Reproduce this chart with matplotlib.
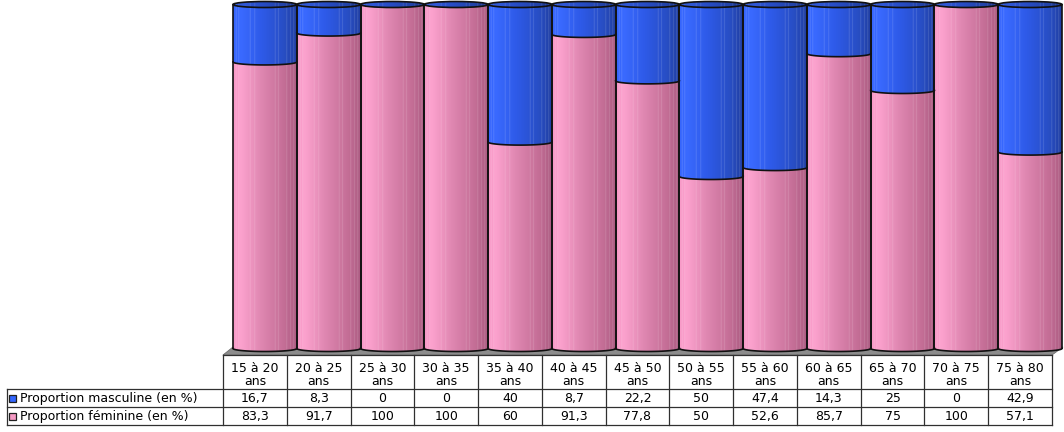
import numpy as np
import matplotlib
matplotlib.use("Agg")
import matplotlib.pyplot as plt
from matplotlib.path import Path
from matplotlib.patches import PathPatch, Ellipse, Polygon, Rectangle

# age groups and shares per group (in %)
tranches = ["15 à 20", "20 à 25", "25 à 30", "30 à 35", "35 à 40", "40 à 45",
            "45 à 50", "50 à 55", "55 à 60", "60 à 65", "65 à 70", "70 à 75",
            "75 à 80"]
masculin = [16.7, 8.3, 0, 0, 40, 8.7, 22.2, 50, 47.4, 14.3, 25, 0, 42.9]
feminin = [83.3, 91.7, 100, 100, 60, 91.3, 77.8, 50, 52.6, 85.7, 75, 100, 57.1]
series = ["Proportion masculine (en %)", "Proportion féminine (en %)"]

W, H = 1064, 432
FONT = "DejaVu Sans"
FS = 9

# horizontal shading of the cylinders (position, rgb)
PINK = [(0.0, (246, 152, 198)), (0.12, (252, 162, 206)), (0.45, (222, 134, 176)),
        (0.8, (196, 110, 150)), (1.0, (172, 92, 130))]
BLUE = [(0.0, (52, 100, 252)), (0.12, (58, 106, 255)), (0.45, (46, 90, 232)),
        (0.8, (40, 78, 196)), (1.0, (32, 62, 162))]
STRIPES = [0.05, 0.09, 0.27, 0.34, 0.66, 0.71, 0.84, 0.9, 0.95]


def shading(stops, n=256, k=1.0):
    pos = np.array([s[0] for s in stops])
    rgb = np.array([s[1] for s in stops], float) / 255
    x = np.linspace(0, 1, n)
    img = np.stack([np.interp(x, pos, rgb[:, c]) for c in range(3)], axis=1)
    for s in STRIPES:
        j = int(s * (n - 1))
        img[j:j + 2] = img[j:j + 2] + (1 - img[j:j + 2]) * 0.25
    return np.clip(img[None, :, :] * k, 0, 1)


def px(x0, y0, x1, y1):
    return [x0 / W, 1 - y1 / H, (x1 - x0) / W, (y1 - y0) / H]


fig = plt.figure(figsize=(W / 100, H / 100), dpi=100)
fig.patch.set_facecolor("white")

# overlay in pixel coordinates for the floor and the data table
ov = fig.add_axes([0, 0, 1, 1], zorder=0)
ov.set_xlim(0, W)
ov.set_ylim(H, 0)
ov.axis("off")

TAB_L, TAB_R, DEPTH = 223, 1052, 10
Y_TOP, Y_BASE = 4.5, 348.5   # pixel rows of 100 % and 0 %
AX_TOP, AX_BOT = 0, 355      # axes box, a bit larger for the end caps
ov.add_patch(Polygon([(TAB_L, 355), (TAB_R, 355), (TAB_R + DEPTH + 1, 347),
                      (TAB_L + DEPTH, 347)], closed=True,
                     facecolor="#8c8c8c", edgecolor="#6e6e6e", lw=0.6))

ax = fig.add_axes(px(TAB_L + DEPTH, AX_TOP, TAB_R + DEPTH, AX_BOT), zorder=1)
ax.patch.set_alpha(0)
n = len(tranches)
scale = 100 / (Y_BASE - Y_TOP)
EH = 3.0 * scale  # half height of the ellipses in data units
t = np.linspace(np.pi, 2 * np.pi, 80)
EDGE = dict(color="#111111", lw=1.2)


def segment(i, a, b, stops):
    xs = i + 0.5 * np.cos(t)
    ys = a + EH * np.sin(t)
    verts = list(zip(xs, ys)) + [(i + 0.5, b), (i - 0.5, b), (xs[0], ys[0])]
    patch = PathPatch(Path(verts), facecolor="none", edgecolor="none",
                      transform=ax.transData)
    ax.add_patch(patch)
    im = ax.imshow(shading(stops), extent=(i - 0.5, i + 0.5, a - EH, b),
                   aspect="auto", interpolation="bilinear", zorder=2)
    im.set_clip_path(patch)
    ax.plot(xs, ys, zorder=4, clip_on=False, **EDGE)


for i, (m, f) in enumerate(zip(masculin, feminin)):
    if f > 0:
        segment(i, 0, f, PINK)
    if m > 0:
        segment(i, f, f + m, BLUE)
    # the top face belongs to the upper series, even when it is empty
    top = f + m
    cap = Ellipse((i, top), 1.0, 2 * EH, facecolor="none", edgecolor="none",
                  transform=ax.transData)
    ax.add_patch(cap)
    im = ax.imshow(shading(BLUE, k=0.85),
                   extent=(i - 0.5, i + 0.5, top - EH, top + EH),
                   aspect="auto", interpolation="bilinear", zorder=3)
    im.set_clip_path(cap)
    ax.add_patch(Ellipse((i, top), 1.0, 2 * EH, facecolor="none",
                         edgecolor=EDGE["color"], lw=EDGE["lw"], zorder=4,
                         clip_on=False))
    ax.vlines([i - 0.5, i + 0.5], 0, top, zorder=4, clip_on=False, **EDGE)

ax.set_xlim(-0.5, n - 0.5)
ax.set_ylim(-(AX_BOT - Y_BASE) * scale, 100 + (Y_TOP - AX_TOP) * scale)
ax.axis("off")

# data table under the chart
cw = (TAB_R - TAB_L) / n
LINE = dict(color="#303030", lw=0.9)
ov.plot([TAB_L, TAB_R], [355, 355], **LINE)
for y in (389, 407, 425):
    ov.plot([7, TAB_R], [y, y], **LINE)
ov.plot([7, 7], [389, 425], **LINE)
for k in range(n + 1):
    x = TAB_L + k * cw
    ov.plot([x, x], [355, 425], **LINE)

for k, lab in enumerate(tranches):
    xc = TAB_L + (k + 0.5) * cw
    ov.text(xc, 369, lab, ha="center", va="center", fontsize=FS, family=FONT)
    ov.text(xc, 381.5, "ans", ha="center", va="center", fontsize=FS, family=FONT)
    for y, v in ((398.5, masculin[k]), (416.5, feminin[k])):
        ov.text(xc, y, f"{v:g}".replace(".", ","), ha="center", va="center",
                fontsize=FS, family=FONT)

for y, name, col in ((398.5, series[0], "#3366ff"), (416.5, series[1], "#f59ac4")):
    ov.add_patch(Rectangle((8.5, y - 3.5), 7, 7, facecolor=col,
                           edgecolor="#202020", lw=0.9))
    ov.text(20, y, name, ha="left", va="center", fontsize=FS, family=FONT)

fig.savefig("out.png", dpi=100)
